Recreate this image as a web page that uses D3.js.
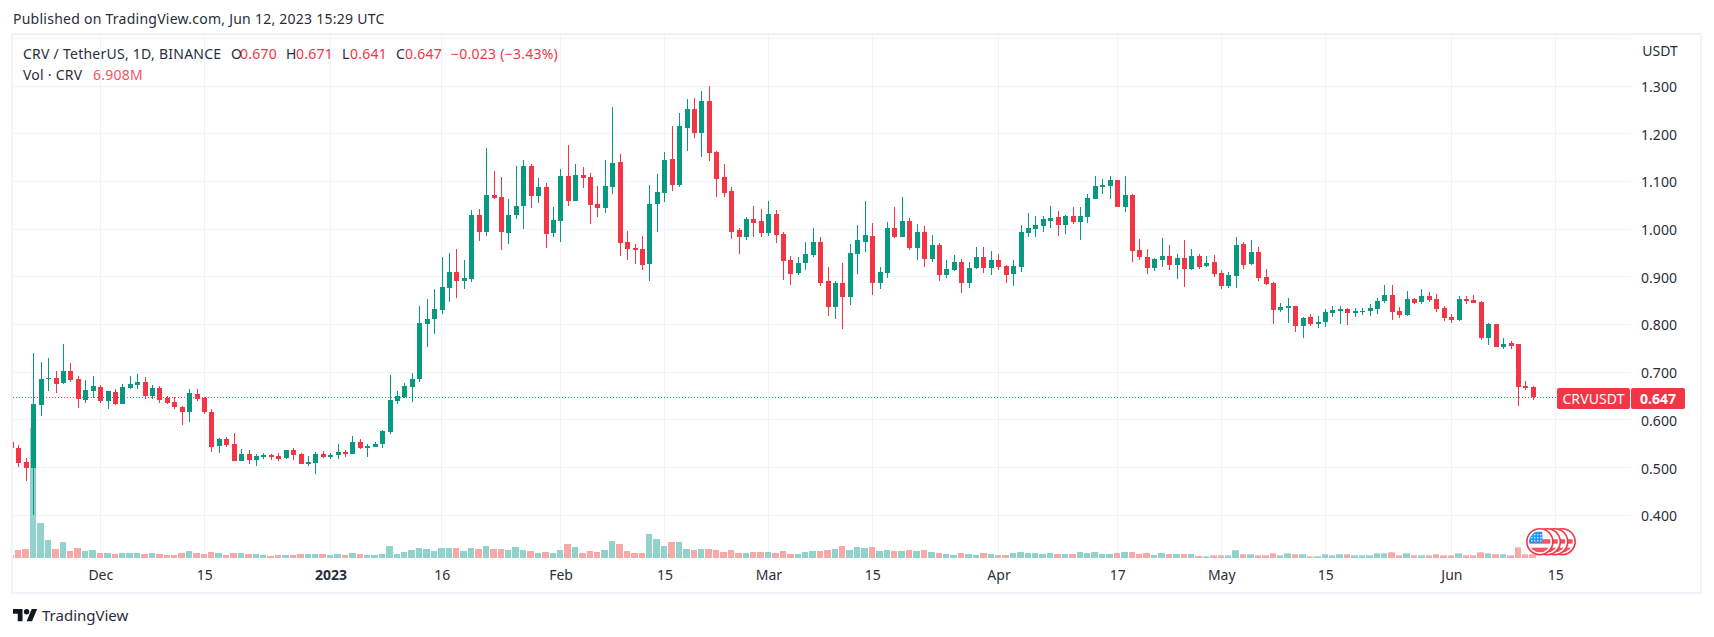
<!DOCTYPE html>
<html>
<head>
<meta charset="utf-8">
<script src="https://d3js.org/d3.v7.min.js"></script>
<style>
  html, body { margin: 0; padding: 0; background: #fff; }
  text { font-family: "Noto Sans", sans-serif; }
  .domain { display: none; }
</style>
</head>
<body>
<div id="chart"></div>
<script>
// one candle per day, 2022-11-19 to 2023-06-12
const firstDay = "2022-11-19", lastDay = "2023-06-12";

const opens = [
  .554,.541,.512,.499,.631,.686,.688,.677,.703,.686,
  .642,.661,.669,.640,.658,.633,.667,.673,.679,.650,
  .667,.645,.637,.627,.617,.654,.646,.617,.545,.560,
  .549,.514,.528,.516,.522,.526,.524,.520,.537,.528,
  .507,.510,.528,.522,.526,.533,.528,.554,.541,.543,
  .549,.575,.639,.648,.669,.686,.801,.811,.830,.876,
  .910,.891,.895,1.029,.994,1.071,1.067,.992,1.029,1.048,
  1.132,1.069,1.088,.992,1.017,1.111,1.059,1.113,1.109,1.052,
  1.044,1.088,1.141,.973,.960,.958,.927,1.052,1.076,1.147,
  1.092,1.212,1.252,1.201,1.269,1.161,1.109,1.080,.998,.983,
  1.021,1.017,.992,1.031,.990,.935,.908,.929,.946,.973,
  .891,.837,.887,.858,.948,.973,.985,.887,.908,1.002,
  .983,1.017,.960,.994,.937,.967,.904,.914,.931,.887,
  .918,.941,.918,.935,.922,.906,.921,.992,1.000,1.006,
  1.017,1.025,1.009,1.027,1.015,1.025,1.063,1.088,1.090,1.103,
  1.046,1.072,.956,.941,.918,.935,.944,.925,.939,.916,
  .944,.923,.931,.908,.881,.902,.969,.927,.952,.900,
  .887,.830,.835,.839,.797,.816,.801,.805,.824,.828,
  .833,.824,.826,.828,.833,.849,.862,.828,.820,.853,
  .847,.860,.853,.835,.816,.809,.853,.851,.847,.772,
  .801,.753,.761,.759,.671,.670];

const highs = [
  .560,.547,.520,.740,.721,.730,.703,.759,.719,.692,
  .684,.692,.673,.661,.665,.675,.692,.696,.690,.673,
  .671,.650,.648,.629,.665,.665,.648,.623,.562,.564,
  .572,.539,.537,.528,.531,.528,.531,.537,.541,.531,
  .524,.533,.535,.531,.549,.537,.566,.560,.549,.554,
  .579,.694,.660,.677,.698,.839,.853,.874,.941,.950,
  .958,.935,1.040,1.042,1.170,1.122,1.109,1.063,1.132,1.145,
  1.136,1.107,1.097,1.046,1.126,1.176,1.136,1.130,1.118,1.090,
  1.145,1.256,1.157,.996,.969,.985,1.092,1.115,1.161,1.216,
  1.243,1.273,1.275,1.290,1.300,1.164,1.136,1.088,1.002,1.025,
  1.048,1.042,1.059,1.040,.994,.943,.941,.973,1.002,.983,
  .921,.891,.929,.969,1.009,1.059,1.013,.921,1.015,1.046,
  1.067,1.023,1.011,1.006,.988,.971,.935,.946,.937,.931,
  .962,.962,.954,.948,.925,.935,1.009,1.034,1.027,1.027,
  1.048,1.038,1.030,1.046,1.046,1.074,1.111,1.105,1.111,1.103,
  1.111,1.074,.979,.958,.939,.981,.967,.948,.977,.958,
  .948,.944,.946,.914,.910,.984,.973,.977,.963,.916,
  .889,.845,.856,.839,.816,.822,.818,.833,.839,.839,
  .835,.835,.835,.843,.856,.883,.883,.837,.870,.856,
  .874,.868,.864,.839,.822,.860,.860,.862,.849,.803,
  .801,.772,.765,.759,.682,.671];

const lows = [
  .535,.501,.472,.401,.608,.661,.656,.675,.679,.625,
  .635,.646,.635,.623,.631,.633,.665,.665,.644,.644,
  .635,.633,.623,.589,.596,.640,.612,.533,.531,.543,
  .514,.514,.507,.503,.518,.516,.514,.518,.516,.507,
  .503,.487,.520,.518,.518,.522,.528,.539,.522,.543,
  .541,.570,.633,.646,.637,.679,.753,.780,.822,.847,
  .855,.874,.889,.975,.985,1.063,.956,.969,1.021,1.000,
  1.044,1.055,.960,.983,.973,1.048,1.059,1.086,1.011,1.025,
  1.034,1.074,.943,.935,.927,.914,.891,.994,1.057,1.080,
  1.088,1.164,1.191,1.151,1.143,1.067,1.067,.979,.948,.977,
  .983,.983,.985,.971,.893,.883,.904,.914,.941,.881,
  .818,.811,.790,.841,.906,.952,.862,.874,.897,.981,
  .983,.956,.935,.921,.931,.891,.897,.912,.866,.876,
  .916,.908,.904,.914,.887,.881,.910,.983,.983,.994,
  1.002,.985,.990,1.011,.977,1.013,1.063,1.074,1.063,1.046,
  1.036,.931,.935,.906,.912,.921,.914,.895,.879,.914,
  .916,.921,.900,.874,.877,.877,.916,.925,.891,.883,
  .801,.826,.803,.784,.772,.797,.793,.795,.816,.801,
  .799,.816,.820,.818,.822,.845,.809,.814,.818,.843,
  .843,.847,.826,.807,.803,.807,.843,.845,.767,.757,
  .753,.749,.749,.629,.663,.641];

const closes = [
  .541,.510,.499,.633,.686,.688,.675,.703,.684,.644,
  .663,.671,.640,.661,.633,.669,.675,.679,.650,.667,
  .642,.635,.627,.617,.656,.644,.617,.543,.560,.547,
  .514,.528,.516,.524,.526,.522,.518,.537,.526,.507,
  .512,.528,.522,.526,.533,.528,.554,.541,.545,.549,
  .577,.642,.650,.671,.686,.803,.811,.832,.879,.910,
  .891,.897,1.029,.994,1.071,1.065,.994,1.029,1.048,1.132,
  1.069,1.088,.990,1.019,1.111,1.059,1.113,1.107,1.050,1.044,
  1.090,1.138,.971,.958,.956,.925,1.052,1.078,1.145,1.092,
  1.216,1.252,1.201,1.269,1.159,1.105,1.076,.994,.983,1.021,
  1.013,.992,1.031,.988,.933,.906,.929,.948,.973,.887,
  .837,.887,.858,.950,.977,.988,.887,.910,1.002,.983,
  1.017,.960,.994,.937,.967,.904,.916,.931,.887,.918,
  .941,.918,.935,.921,.904,.922,.994,1.002,1.009,1.021,
  1.023,1.009,1.027,1.015,1.027,1.065,1.090,1.092,1.103,1.046,
  1.072,.954,.941,.918,.937,.944,.925,.939,.916,.944,
  .921,.929,.906,.881,.904,.967,.925,.952,.898,.885,
  .830,.837,.839,.797,.814,.801,.805,.826,.830,.833,
  .824,.828,.828,.835,.849,.862,.826,.820,.853,.845,
  .860,.851,.833,.814,.809,.853,.849,.845,.772,.801,
  .753,.759,.755,.669,.667,.647];

// volume in millions of CRV
const volumes = [
  5.7,15.1,17,246,66,34,17,30,13.2,18.9,
  13.2,15.1,9.5,9.5,7.6,9.5,9.5,9.5,7.6,9.5,
  7.6,5.7,5.7,9.5,13.2,9.5,7.6,11.3,9.5,5.7,
  9.5,9.5,7.6,7.6,5.7,3.8,5.7,5.7,5.7,7.6,
  7.6,7.6,7.6,5.7,7.6,5.7,9.5,7.6,5.7,5.7,
  7.6,22.7,7.6,11.3,15.1,18.9,17,13.2,18.9,18.9,
  18.9,13.2,18.9,17,22.7,17,17,15.1,20.8,15.1,
  13.2,9.5,11.3,9.5,15.1,26.5,20.8,9.5,13.2,11.3,
  15.1,32,26.5,13.2,9.5,9.5,45.4,35.9,22.7,30.2,
  30.2,17,15.1,17,17,15.1,11.3,15.1,9.5,9.5,
  11.3,11.3,11.3,9.5,13.2,7.6,7.6,11.3,13.2,13.2,
  15.1,17,22.7,15.1,20.8,18.9,20.8,13.2,15.1,13.2,
  13.2,15.1,13.2,15.1,11.3,9.5,7.6,5.7,9.5,7.6,
  5.7,9.5,7.6,5.7,5.7,9.5,11.3,9.5,9.5,7.6,
  9.5,7.6,7.6,7.6,11.3,9.5,11.3,7.6,7.6,9.5,
  11.3,11.3,7.6,9.5,5.7,9.5,7.6,7.6,7.6,7.6,
  3.8,3.2,5,5,5,14.5,7,7,5,5,
  8.8,5,8.8,7,7,3.2,3.2,7,5,7,
  7,5,5,5,8.8,8.8,10.7,5,8.8,5,
  5,5,7,5,5,8.8,5,5,10.7,8.8,
  7,7,5,20,7,6.908];

const xTickDates = ["2022-12-01","2022-12-15","2023-01-01","2023-01-16","2023-02-01","2023-02-15",
  "2023-03-01","2023-03-15","2023-04-01","2023-04-17","2023-05-01","2023-05-15","2023-06-01","2023-06-15"];
const xTickLabels = ["Dec","15","2023","16","Feb","15","Mar","15","Apr","17","May","15","Jun","15"];
const yGridValues = [0.4,0.5,0.6,0.7,0.8,0.9,1.0,1.1,1.2,1.3,1.4];
const yLabelValues = [0.4,0.5,0.6,0.7,0.8,0.9,1.0,1.1,1.2,1.3];
const eventDates = ["2023-06-13","2023-06-14","2023-06-15","2023-06-16"];
const lastPrice = 0.647;

const parseDay = d3.utcParse("%Y-%m-%d");
const dates = d3.utcDay.range(parseDay(firstDay), d3.utcDay.offset(parseDay(lastDay), 1));
const candles = dates.map((date, i) => ({
  date, open: opens[i], high: highs[i], low: lows[i], close: closes[i], volume: volumes[i]
}));

const green = "#089981", red = "#f23645", grid = "#f0f3fa", frame = "#f0f3fa", ink = "#2a2e39";
const paneLeft = 13, paneRight = 1631, paneTop = 35, paneBottom = 560;

const x = d3.scaleUtc()
  .domain([parseDay("2022-12-01"), parseDay("2023-06-15")])
  .range([100.3, 1555.3]);
const y = d3.scaleLinear().domain([0.4, 1.3]).range([515.3, 86]);
const yVol = d3.scaleLinear().domain([0, 246]).range([558, 427.8]);

const svg = d3.select("#chart").append("svg")
  .attr("width", 1714).attr("height", 637)
  .style("display", "block");

svg.append("defs").append("clipPath").attr("id", "pane")
  .append("rect")
  .attr("x", paneLeft).attr("y", paneTop)
  .attr("width", paneRight - paneLeft).attr("height", paneBottom - paneTop);

// grid lines
const xGrid = svg.append("g")
  .attr("transform", `translate(0,${paneBottom})`)
  .call(d3.axisBottom(x).tickValues(xTickDates.map(parseDay))
    .tickSize(-(paneBottom - paneTop)).tickFormat(""));
xGrid.selectAll(".tick").attr("transform", d => `translate(${Math.floor(x(d)) + 0.5},0)`);
xGrid.selectAll("line").attr("stroke", grid);

const yGrid = svg.append("g")
  .attr("transform", `translate(${paneLeft},0)`)
  .call(d3.axisRight(y).tickValues(yGridValues)
    .tickSize(paneRight - paneLeft).tickFormat(""));
yGrid.selectAll(".tick").attr("transform", d => `translate(0,${Math.floor(y(d)) + 0.5})`);
yGrid.selectAll("line").attr("stroke", grid);

const pane = svg.append("g").attr("clip-path", "url(#pane)");

// volume bars sit behind the candles
pane.append("g").selectAll("rect")
  .data(candles)
  .join("rect")
    .attr("x", d => Math.round(x(d.date) - 3.6))
    .attr("width", d => Math.round(x(d3.utcDay.offset(d.date, 1)) - 3.6) - 1 - Math.round(x(d.date) - 3.6))
    .attr("y", d => yVol(d.volume))
    .attr("height", d => yVol(0) - yVol(d.volume))
    .attr("fill", d => d.close >= d.open ? "#92d2cc" : "#f7a9a7");

// price line
pane.append("line")
  .attr("x1", paneLeft).attr("x2", 1557)
  .attr("y1", Math.round(y(lastPrice)) + 0.5).attr("y2", Math.round(y(lastPrice)) + 0.5)
  .attr("stroke", red).attr("stroke-width", 1).attr("stroke-dasharray", "1 2");

// candles
const candleX = d => Math.round(x(d.date) - 0.2);
const candle = pane.append("g").selectAll("g")
  .data(candles)
  .join("g")
    .attr("fill", d => d.close >= d.open ? green : red);
candle.append("rect")
  .attr("x", candleX).attr("width", 1)
  .attr("y", d => Math.round(y(d.high)))
  .attr("height", d => Math.max(1, Math.round(y(d.low)) - Math.round(y(d.high))));
candle.append("rect")
  .attr("x", d => candleX(d) - 2).attr("width", 5)
  .attr("y", d => Math.round(y(Math.max(d.open, d.close))))
  .attr("height", d => Math.max(1, Math.round(y(Math.min(d.open, d.close))) - Math.round(y(Math.max(d.open, d.close)))));

// economic event flags, first date on top
const flagY = 541.7;
const flag = svg.append("g").selectAll("g")
  .data(eventDates.map(parseDay).reverse())
  .join("g")
    .attr("transform", d => `translate(${x(d) - 0.6},${flagY})`);
flag.append("circle").attr("r", 13).attr("fill", "#fff").attr("stroke", red).attr("stroke-width", 1.6);
flag.append("clipPath").attr("id", (d, i) => "flag" + i).append("circle").attr("r", 10.6);
const flagInner = flag.append("g").attr("clip-path", (d, i) => `url(#flag${i})`);
flagInner.append("rect").attr("x", -12).attr("y", -2.5).attr("width", 24).attr("height", 4.5).attr("fill", "#f7525f");
flagInner.append("rect").attr("x", -12).attr("y", 6).attr("width", 24).attr("height", 5).attr("fill", "#f7525f");
flagInner.append("rect").attr("x", -11).attr("y", -10).attr("width", 13.5).attr("height", 11).attr("fill", "#2196f3");
flagInner.selectAll("circle.star")
  .data(d3.cross([-8, -5, -2, 1], [-7, -4, -1]))
  .join("circle").attr("class", "star")
    .attr("cx", d => d[0]).attr("cy", d => d[1]).attr("r", 0.7).attr("fill", "#fff");

// time axis labels
const xAxis = svg.append("g")
  .attr("transform", "translate(0,566)")
  .call(d3.axisBottom(x).tickValues(xTickDates.map(parseDay)).tickSize(0).tickPadding(0)
    .tickFormat((d, i) => xTickLabels[i]));
xAxis.selectAll("text")
  .attr("y", 14)
  .attr("dy", 0)
  .attr("font-family", "Noto Sans, sans-serif")
  .attr("font-size", 14)
  .attr("fill", ink)
  .attr("font-weight", (d, i) => xTickLabels[i] === "2023" ? 700 : 400);

// price axis labels
const yAxis = svg.append("g")
  .attr("transform", "translate(1659,1)")
  .call(d3.axisRight(y).tickValues(yLabelValues).tickSize(0).tickPadding(0)
    .tickFormat(d3.format(".3f")));
yAxis.selectAll("text")
  .attr("text-anchor", "middle")
  .attr("font-family", "Noto Sans, sans-serif")
  .attr("font-size", 14)
  .attr("fill", ink);
svg.append("text").attr("x", 1660).attr("y", 55.5).attr("text-anchor", "middle")
  .attr("font-size", 14).attr("fill", ink).text("USDT");

// last price label
svg.append("rect").attr("x", 1557).attr("y", 388).attr("width", 73).attr("height", 21).attr("rx", 2).attr("fill", red);
svg.append("rect").attr("x", 1631).attr("y", 388).attr("width", 54).attr("height", 21).attr("rx", 2).attr("fill", red);
svg.append("text").attr("x", 1593.5).attr("y", 403.5).attr("text-anchor", "middle")
  .attr("font-size", 14).style("letter-spacing", "0.1px").attr("fill", "#fff").text("CRVUSDT");
svg.append("text").attr("x", 1658).attr("y", 403.5).attr("text-anchor", "middle")
  .attr("font-size", 14).attr("font-weight", 700).attr("fill", "#fff").text("0.647");

// header legend
const legend = [
  ["CRV / TetherUS, 1D, BINANCE", 23, 59, ink],
  ["O", 231, 59, ink], ["0.670", 240, 59, red],
  ["H", 286, 59, ink], ["0.671", 296, 59, red],
  ["L", 342, 59, ink], ["0.641", 350, 59, red],
  ["C", 396, 59, ink], ["0.647", 405, 59, red],
  ["\u22120.023 (\u22123.43%)", 451, 59, red],
  ["Vol \u00b7 CRV", 23, 80, ink], ["6.908M", 93, 80, "#f7525f"]
];
svg.append("g").selectAll("text")
  .data(legend)
  .join("text")
    .attr("x", d => d[1]).attr("y", d => d[2])
    .attr("font-size", 14).style("letter-spacing", "0.25px").attr("fill", d => d[3])
    .text(d => d[0]);

svg.append("text").attr("x", 13).attr("y", 24).attr("font-size", 14).style("letter-spacing", "0.25px").attr("fill", ink)
  .text("Published on TradingView.com, Jun 12, 2023 15:29 UTC");

// frame
svg.append("rect").attr("x", 12).attr("y", 34).attr("width", 1689).attr("height", 559)
  .attr("fill", "none").attr("stroke", frame).attr("stroke-width", 2);

// logo
const logo = svg.append("g").attr("transform", "translate(13,606.3) scale(0.68)").attr("fill", "#131722");
logo.append("path").attr("d", "M14 22H7V11H0V4h14v18zM28 22h-8l7.5-18h8L28 22z");
logo.append("circle").attr("cx", 20).attr("cy", 8).attr("r", 4);
svg.append("text").attr("x", 42).attr("y", 621).attr("font-size", 15).attr("fill", ink).text("TradingView");
</script>
</body>
</html>
